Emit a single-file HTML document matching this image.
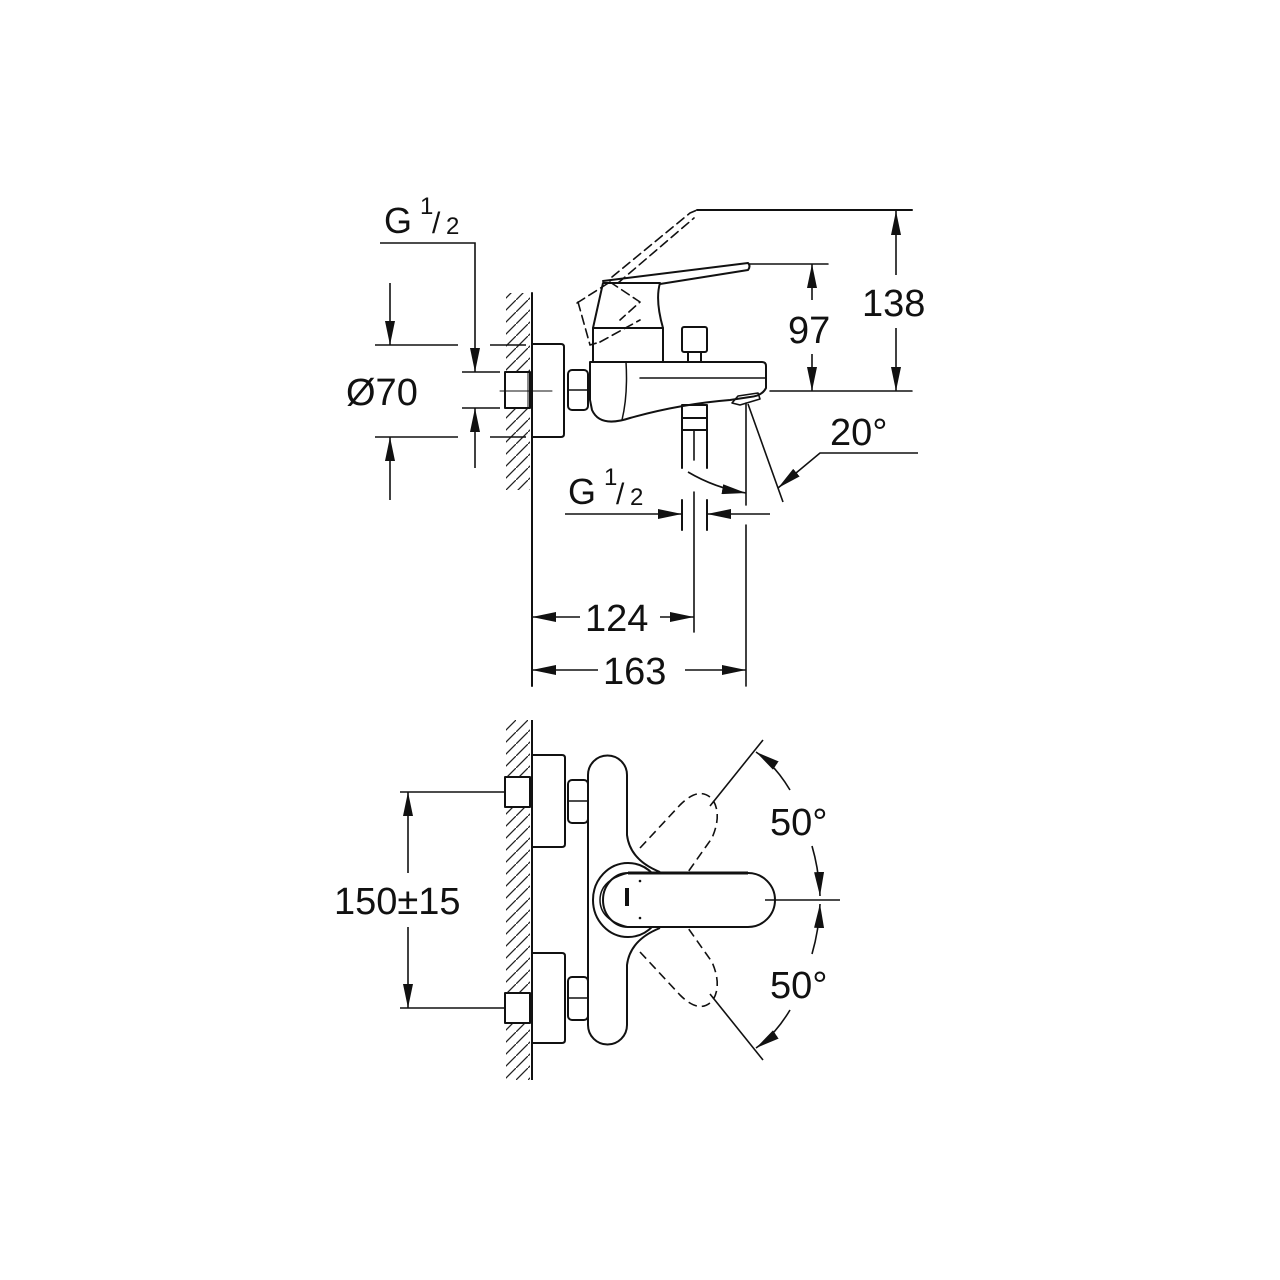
<!DOCTYPE html>
<html><head><meta charset="utf-8"><style>
html,body{margin:0;padding:0;background:#fff}
svg{display:block}
text{font-family:"Liberation Sans",Arial,sans-serif;fill:#111}
</style></head><body>
<svg width="1280" height="1280" viewBox="0 0 1280 1280" xmlns="http://www.w3.org/2000/svg">
<defs>
<marker id="a" markerWidth="24" markerHeight="10" refX="24" refY="5" orient="auto" markerUnits="userSpaceOnUse">
<path d="M0,0 L24,5 L0,10 Z" fill="#111"/>
</marker>
<pattern id="h" width="12" height="12" patternUnits="userSpaceOnUse">
<path d="M-2,14 L14,-2" stroke="#222" stroke-width="1.3"/>
</pattern>
</defs>
<rect width="1280" height="1280" fill="#fff"/>
<g stroke="#111" stroke-width="2" fill="none" stroke-linecap="round" stroke-linejoin="round">
<!-- ===== TOP VIEW ===== -->
<rect x="506" y="293" width="24" height="197" fill="url(#h)" stroke="none"/>
<line x1="532" y1="293" x2="532" y2="686"/>
<path d="M532,344 L561,344 Q564,344 564,347 L564,434 Q564,437 561,437 L532,437"/>
<rect x="505" y="372" width="25" height="36" fill="#fff"/>
<line x1="528" y1="372" x2="528" y2="408" stroke-width="1"/>
<rect x="568" y="370" width="20" height="40" rx="4"/>
<line x1="568" y1="390" x2="588" y2="390" stroke-width="1.5"/>
<path d="M590,362 L762,362 Q766,362 766,366 L766,388 Q762,396 750,397 L730,400 Q680,404 630,418 Q600,428 592,410 L590,400 Z"/>
<line x1="640" y1="378" x2="766" y2="378" stroke-width="1.5"/>
<path d="M626,362 Q628,395 622,420" stroke-width="1.5"/>
<path d="M593,362 L593,328 L663,328 L663,362"/>
<path d="M593,328 L603,283 L660,283 Q655,300 663,328"/>
<path d="M603,281 L748,263 Q751,266 748,270 L660,284"/>
<g stroke-dasharray="9,5" stroke-width="1.6">
<path d="M578,302 L590,345 L600,342"/>
<path d="M577,303 L610,282"/>
<path d="M610,282 L640,302 L620,320"/>
<path d="M600,342 L640,320"/>
<path d="M612,277 L690,213 L697,210"/>
<path d="M618,283 L694,218"/>
</g>
<line x1="697" y1="210" x2="912" y2="210"/>
<rect x="682" y="327" width="25" height="25" rx="2"/>
<line x1="688" y1="352" x2="688" y2="362"/><line x1="701" y1="352" x2="701" y2="362"/>
<path d="M732,403 L738,396 L758,393 L760,399 L740,405 Z" stroke-width="1.6"/>
<rect x="682" y="405" width="25" height="25"/>
<line x1="682" y1="418" x2="707" y2="418"/>
<line x1="682" y1="430" x2="682" y2="468"/><line x1="707" y1="430" x2="707" y2="468"/>
<line x1="682" y1="500" x2="682" y2="530"/><line x1="707" y1="500" x2="707" y2="530"/>
<line x1="694" y1="430" x2="694" y2="460" stroke-width="1.6"/>
<line x1="694" y1="492" x2="694" y2="632" stroke-width="1.6"/>
<line x1="746" y1="403" x2="746" y2="505" stroke-width="1.6"/>
<line x1="746" y1="525" x2="746" y2="686" stroke-width="1.6"/>
<line x1="500" y1="391" x2="552" y2="391" stroke-width="1"/>
<line x1="770" y1="391" x2="912" y2="391" stroke-width="1.5"/>
<line x1="750" y1="264" x2="828" y2="264" stroke-width="1.5"/>
</g>
<g stroke="#111" stroke-width="1.6" fill="none">
<polyline points="380,243 475,243 475,372" marker-end="url(#a)"/>
<line x1="475" y1="468" x2="475" y2="408" marker-end="url(#a)"/>
<line x1="462" y1="372" x2="500" y2="372"/>
<line x1="462" y1="408" x2="500" y2="408"/>
<line x1="375" y1="345" x2="458" y2="345"/><line x1="490" y1="345" x2="526" y2="345"/>
<line x1="375" y1="437" x2="458" y2="437"/><line x1="490" y1="437" x2="526" y2="437"/>
<line x1="390" y1="283" x2="390" y2="345" marker-end="url(#a)"/>
<line x1="390" y1="500" x2="390" y2="437" marker-end="url(#a)"/>
<line x1="896" y1="275" x2="896" y2="211" marker-end="url(#a)"/>
<line x1="896" y1="328" x2="896" y2="391" marker-end="url(#a)"/>
<line x1="812" y1="300" x2="812" y2="264" marker-end="url(#a)"/>
<line x1="812" y1="354" x2="812" y2="391" marker-end="url(#a)"/>
<line x1="748" y1="404" x2="783" y2="502"/>
<polyline points="918,453 820,453 778,488" marker-end="url(#a)"/>
<path d="M688,472 Q715,488 746,493" marker-end="url(#a)"/>
<line x1="565" y1="514" x2="682" y2="514" marker-end="url(#a)"/>
<line x1="770" y1="514" x2="707" y2="514" marker-end="url(#a)"/>
<line x1="580" y1="617" x2="532" y2="617" marker-end="url(#a)"/>
<line x1="660" y1="617" x2="694" y2="617" marker-end="url(#a)"/>
<line x1="598" y1="670" x2="532" y2="670" marker-end="url(#a)"/>
<line x1="685" y1="670" x2="746" y2="670" marker-end="url(#a)"/>
</g>
<g font-size="38">
<text x="384" y="233" font-size="36">G</text><text x="420" y="214" font-size="24">1</text><text x="432" y="233" font-size="30">/</text><text x="446" y="234" font-size="24">2</text>
<text x="346" y="405">Ø70</text>
<text x="862" y="316">138</text>
<text x="788" y="343">97</text>
<text x="830" y="445">20°</text>
<text x="568" y="504" font-size="36">G</text><text x="604" y="485" font-size="24">1</text><text x="616" y="504" font-size="30">/</text><text x="630" y="505" font-size="24">2</text>
<text x="585" y="631">124</text>
<text x="603" y="684">163</text>
</g>

<!-- ===== BOTTOM VIEW ===== -->
<g stroke="#111" stroke-width="2" fill="none" stroke-linejoin="round">
<rect x="506" y="720" width="24" height="360" fill="url(#h)" stroke="none"/>
<line x1="532" y1="720" x2="532" y2="1080"/>
<path d="M532,755 L562,755 Q565,755 565,758 L565,844 Q565,847 562,847 L532,847"/>
<path d="M532,953 L562,953 Q565,953 565,956 L565,1040 Q565,1043 562,1043 L532,1043"/>
<rect x="505" y="777" width="25" height="30" fill="#fff"/>
<rect x="505" y="993" width="25" height="30" fill="#fff"/>
<rect x="568" y="780" width="20" height="43" rx="4"/><line x1="568" y1="801" x2="588" y2="801" stroke-width="1.5"/>
<rect x="568" y="977" width="20" height="43" rx="4"/><line x1="568" y1="998" x2="588" y2="998" stroke-width="1.5"/>
<path d="M588,1025 L588,775 A19,19 0 0 1 627,775 L627,835 Q630,860 660,872"/>
<path d="M660,928 Q630,940 627,965 L627,1025 A19,19 0 0 1 588,1025"/>
<g stroke-dasharray="9,5" stroke-width="1.6">
<path d="M640,848 L680,805 Q700,785 713,800 Q722,815 712,838 L688,872"/>
<path d="M640,952 L680,995 Q700,1015 713,1000 Q722,985 712,962 L688,928"/>
</g>
<ellipse cx="628" cy="900" rx="35" ry="37" fill="#fff"/>
<path d="M628,873 L748,873 A27,27 0 0 1 748,927 L628,927 A25,27 0 0 1 628,873 Z" fill="#fff"/>
<path d="M628,873 Q600,880 600,900 Q600,920 628,927" stroke-width="1.5"/>
<line x1="628" y1="873" x2="748" y2="873" stroke-width="3"/>
<rect x="625" y="888" width="4" height="18" fill="#111" stroke="none"/>
<circle cx="640" cy="881" r="1.3" fill="#111" stroke="none"/>
<circle cx="640" cy="918" r="1.3" fill="#111" stroke="none"/>
</g>
<g stroke="#111" stroke-width="1.6" fill="none">
<line x1="710" y1="806" x2="763" y2="740"/>
<line x1="710" y1="994" x2="763" y2="1060"/>
<line x1="765" y1="900" x2="840" y2="900"/>
<path d="M790,790 Q775,765 756,752" marker-end="url(#a)"/>
<path d="M812,846 Q819,870 820,896" marker-end="url(#a)"/>
<path d="M812,954 Q819,930 820,904" marker-end="url(#a)"/>
<path d="M790,1010 Q775,1035 756,1048" marker-end="url(#a)"/>
<line x1="400" y1="792" x2="505" y2="792"/>
<line x1="400" y1="1008" x2="505" y2="1008"/>
<line x1="408" y1="873" x2="408" y2="792" marker-end="url(#a)"/>
<line x1="408" y1="927" x2="408" y2="1008" marker-end="url(#a)"/>
</g>
<g font-size="38">
<text x="770" y="835">50°</text>
<text x="770" y="998">50°</text>
<text x="334" y="914">150±15</text>
</g>
</svg>
</body></html>
